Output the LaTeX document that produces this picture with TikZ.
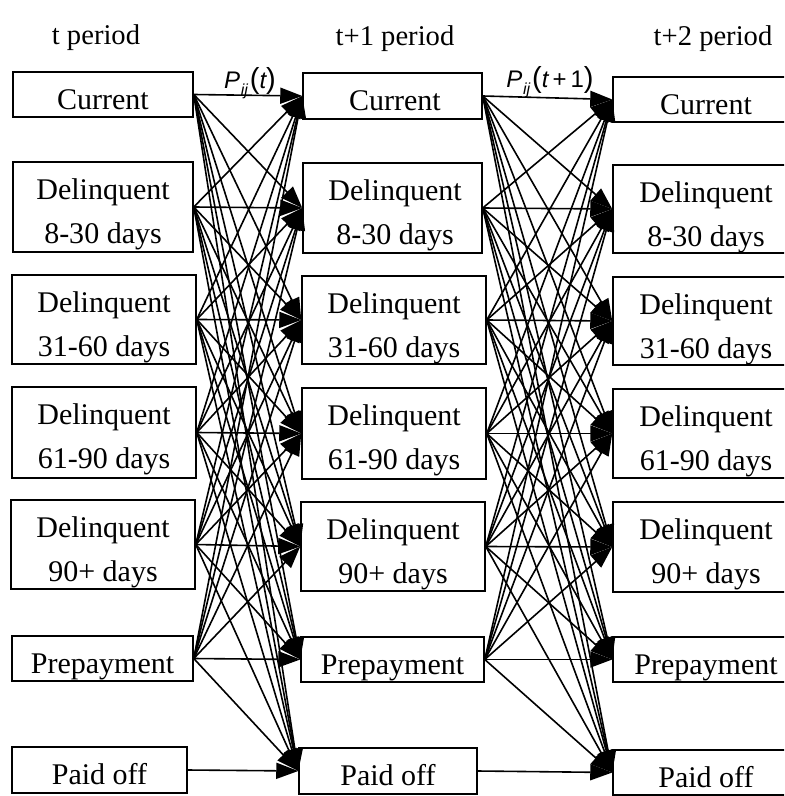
\documentclass[tikz,border=0pt]{standalone}
\usepackage{fontspec}
\setmainfont{Liberation Serif}
\newfontfamily\lblfont{Liberation Sans}
\usetikzlibrary{arrows.meta}
\newcommand\mybox[5]{\node[box, minimum width={(#4-#2)*0.5pt}, minimum height={(#5-#3)*0.5pt}] (#1) at ({(#2+#4)/2},{(#3+#5)/2}) {};}
\newcommand\onel[2]{\node[txt] (#1t) at ([yshift=-18.9pt]#1.north) {#2};}
\newcommand\twol[3]{\node[txt] (#1a) at ([yshift=-19pt]#1.north) {#2};\node[txt] (#1b) at ([yshift=-41pt]#1.north) {#3};}
\newcommand\plabel[1]{{\lblfont\fontsize{12}{12}\selectfont\itshape P\kern0.3pt\raisebox{-3.2pt}{\fontsize{8}{8}\selectfont ij}\kern1pt{\upshape\fontsize{14.5}{14.5}\selectfont(}#1{\upshape\fontsize{14.5}{14.5}\selectfont)}}}
\begin{document}
\begin{tikzpicture}[x=0.5pt,y=-0.5pt,
  box/.style={draw, line width=0.75pt, inner sep=0pt, rectangle},
  txt/.style={font=\fontsize{15}{18}\selectfont, inner sep=0pt, anchor=base},
  ttl/.style={font=\fontsize{14.3}{17}\selectfont, inner sep=0pt, anchor=base},
  arr/.style={line width=0.8pt, -{Triangle[length=11pt,width=8pt]}},
  lbl/.style={inner sep=0pt, anchor=center}]
\useasboundingbox (0,0) rectangle (784,796);
\clip (0,0) rectangle (784,796);
% titles
\node[ttl] (T1) at (96,45) {t period};
\node[ttl] (T2) at (395,46) {t+1 period};
\node[ttl] (T3) at (713,46) {t+2 period};
% column 1
\mybox{a1}{13}{72}{193}{117}
\mybox{a2}{13}{162}{193}{252}
\mybox{a3}{12}{275}{196}{364}
\mybox{a4}{12}{387}{196}{478}
\mybox{a5}{11}{500}{195}{589}
\mybox{a6}{12}{636}{193}{681}
\mybox{a7}{12}{747}{187}{793}
% column 2
\mybox{b1}{303}{73}{482}{119}
\mybox{b2}{303}{163}{482}{253}
\mybox{b3}{302}{276}{486}{364}
\mybox{b4}{302}{388}{486}{479}
\mybox{b5}{301}{502}{485}{591}
\mybox{b6}{301}{637}{484}{682}
\mybox{b7}{299}{748}{477}{794}
% column 3
\mybox{c1}{613}{77}{790}{122}
\mybox{c2}{613}{165}{790}{253}
\mybox{c3}{613}{277}{790}{365}
\mybox{c4}{613}{389}{790}{478}
\mybox{c5}{613}{502}{790}{592}
\mybox{c6}{613}{637}{790}{682}
\mybox{c7}{613}{750}{790}{795}
% texts
\onel{a1}{Current}
\twol{a2}{Delinquent}{8-30 days}
\twol{a3}{Delinquent}{31-60 days}
\twol{a4}{Delinquent}{61-90 days}
\twol{a5}{Delinquent}{90+ days}
\onel{a6}{Prepayment}
\onel{a7}{Paid off}
\node[txt] (b1t) at ([yshift=-18.9pt]b1.north -| 395,0) {Current};
\node[txt] (b2a) at ([yshift=-19pt]b2.north -| 395,0) {Delinquent};
\node[txt] (b2b) at ([yshift=-41pt]b2.north -| 395,0) {8-30 days};
\twol{b3}{Delinquent}{31-60 days}
\twol{b4}{Delinquent}{61-90 days}
\twol{b5}{Delinquent}{90+ days}
\onel{b6}{Prepayment}
\onel{b7}{Paid off}
\node[txt] (c1t) at ([yshift=-18.9pt]c1.north -| 706,0) {Current};
\node[txt] (c2a) at ([yshift=-19pt]c2.north -| 706,0) {Delinquent};
\node[txt] (c2b) at ([yshift=-41pt]c2.north -| 706,0) {8-30 days};
\node[txt] (c3a) at ([yshift=-19pt]c3.north -| 706,0) {Delinquent};
\node[txt] (c3b) at ([yshift=-41pt]c3.north -| 706,0) {31-60 days};
\node[txt] (c4a) at ([yshift=-19pt]c4.north -| 706,0) {Delinquent};
\node[txt] (c4b) at ([yshift=-41pt]c4.north -| 706,0) {61-90 days};
\node[txt] (c5a) at ([yshift=-19pt]c5.north -| 706,0) {Delinquent};
\node[txt] (c5b) at ([yshift=-41pt]c5.north -| 706,0) {90+ days};
\node[txt] (c6t) at ([yshift=-18.9pt]c6.north -| 706,0) {Prepayment};
\node[txt] (c7t) at ([yshift=-18.9pt]c7.north -| 706,0) {Paid off};
% connectors
\foreach \s in {1,...,6}{\foreach \t in {1,...,7}{
  \draw[arr] (a\s.east) -- (b\t.west);
  \draw[arr] (b\s.east) -- (c\t.west);}}
\draw[arr] (a7.east) -- (b7.west);
\draw[arr] (b7.east) -- (c7.west);
% labels
\node[lbl] (L1) at (250,83) {\plabel{t}};
\node[lbl] (L2) at (550,82) {\plabel{t\,\upshape+\,1}};
\end{tikzpicture}
\end{document}
